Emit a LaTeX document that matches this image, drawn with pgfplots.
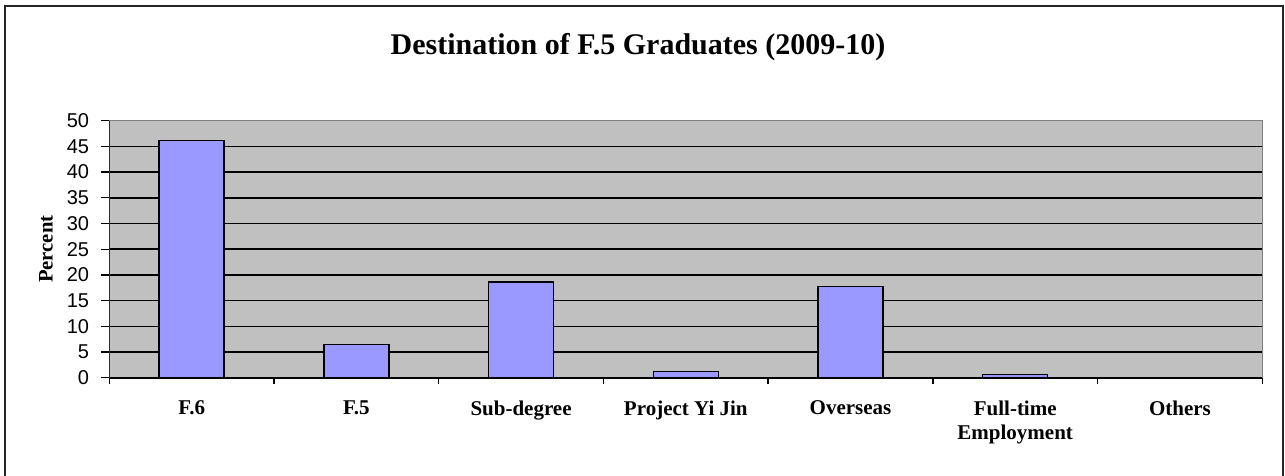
\documentclass[border=0pt]{standalone}
\usepackage{pgfplots}
\pgfplotsset{compat=1.18}
\usepackage{fontspec}
\setmainfont{Liberation Serif}
\newfontfamily\arialfont{Liberation Sans}
\definecolor{plotgray}{HTML}{C0C0C0}
\definecolor{barblue}{HTML}{9999FF}
\definecolor{framegray}{HTML}{808080}

\begin{document}
\begin{tikzpicture}
\useasboundingbox (0pt,0pt) rectangle (963.75pt,356.25pt);
\draw[line width=1.5pt, black!85] (3.75pt,-2pt) -- (3.75pt,351.75pt) -- (962.25pt,351.75pt) -- (962.25pt,-2pt);
\node[font=\fontsize{22.5}{27}\selectfont\bfseries, anchor=base] at (478.5pt,315.5pt) {Destination of F.5 Graduates (2009-10)};
\begin{axis}[
  at={(81.975pt,72.975pt)}, anchor=south west,
  scale only axis, width=864.75pt, height=192.75pt,
  xmin=-0.5, xmax=6.5, ymin=0, ymax=50,
  ytick={0,5,...,50},
  xtick={0,...,6},
  xticklabels={F.6,F.5,Sub-degree,Project Yi Jin,Overseas,{Full-time\\Employment},Others},
  minor xtick={-0.5,0.5,...,6.5},
  tick pos=left,
  tick align=outside,
  major tick length=6pt,
  minor tick length=5pt,
  major x tick style={draw=none},
  tick style={black, line width=1pt},
  minor tick style={black, line width=1pt},
  ymajorgrids,
  grid style={black, line width=1.2pt},
  axis background/.style={fill=plotgray},
  axis line style={framegray, line width=1pt},
  /pgf/number format/assume math mode=true,
  xticklabel style={font=\fontsize{15.75}{18.5}\selectfont\bfseries, align=center, anchor=north, inner sep=0pt, yshift=-11pt},
  yticklabel style={font=\arialfont\fontsize{15}{17}\selectfont, anchor=east, inner sep=0pt, xshift=-9pt},
  ylabel={Percent},
  ylabel style={font=\fontsize{15.5}{18}\selectfont\bfseries, at={(axis description cs:-0.0549,0.5)}, anchor=center, rotate=0},
]
\addplot[ybar, bar width=48.75pt, fill=barblue, draw=black, line width=1pt]
  coordinates {(0,46.2) (1,6.5) (2,18.6) (3,1.2) (4,17.7) (5,0.6) (6,0)};
\draw[black, line width=1.5pt] (rel axis cs:0,1) -- (rel axis cs:0,0) -- (rel axis cs:1,0);
\end{axis}
\end{tikzpicture}
\end{document}
